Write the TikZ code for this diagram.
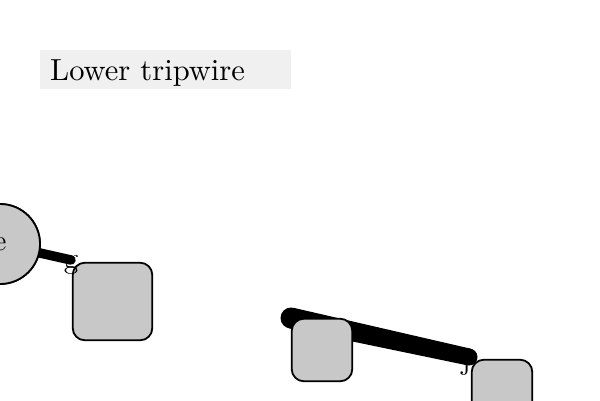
\documentclass[tikz,border=0pt]{standalone}
\usepackage{fontspec}
\newfontfamily\lmten{lmroman10-regular.otf}
\usetikzlibrary{calc}
\definecolor{titlegray}{HTML}{F0F0F0}
\definecolor{boxgray}{HTML}{C8C8C8}
\tikzset{
  titlebox/.style={fill=titlegray, anchor=north west, inner xsep=10pt, inner ysep=0pt,
    text width=231pt, text height=30pt, text depth=9pt, align=left,
    font=\lmten\fontsize{30.5}{36}\selectfont},
  roundbox/.style={draw=black, line width=1.8pt, fill=boxgray, rounded corners=12pt, inner sep=0pt},
  circnode/.style={draw=black, line width=1.8pt, fill=boxgray, circle, minimum size=80pt, inner sep=0pt,
    font=\lmten\fontsize{29}{34}\selectfont},
  lbl/.style={inner sep=0pt, font=\lmten\fontsize{29}{34}\selectfont},
  wire/.style={draw=black, line cap=round}
}
\begin{document}
\begin{tikzpicture}[x=1pt,y=-1pt]
\useasboundingbox (0,0) rectangle (600,400);
% endpoints of connectors
\coordinate (ge) at (71,260);
\coordinate (ie) at (291,318);
\coordinate (je) at (469,357);
\node (ecirc) [circnode] at (0,244) {};
% connectors (under shapes)
\draw[wire, line width=9.5pt] (ecirc.center) -- (ge);
\fill (ie) circle (10.5pt);
\fill (je) circle (8.5pt);
\fill ($(ie)!10.5pt!90:(je)$) -- ($(je)!8.5pt!-90:(ie)$) -- ($(je)!8.5pt!90:(ie)$) -- ($(ie)!10.5pt!-90:(je)$) -- cycle;
% shapes
\node (ecirc2) [circnode] at (0,244) {e};
\node (gbox) [roundbox, minimum width=79.5pt, minimum height=77.5pt] at (112.5,301.5) {};
\node (ibox) [roundbox, minimum width=60.5pt, minimum height=62.5pt] at (322,350) {};
\node (jbox) [roundbox, minimum width=60.5pt, minimum height=62.5pt] at (502,391) {};
% labels
\node (glbl) [lbl] at (71,265) {g};
\node (ilbl) [lbl] at (289,318) {i};
\node (jlbl) [lbl] at (466,363) {j};
% title
\node (title) [titlebox] at (40,50) {Lower tripwire};
\end{tikzpicture}
\end{document}
